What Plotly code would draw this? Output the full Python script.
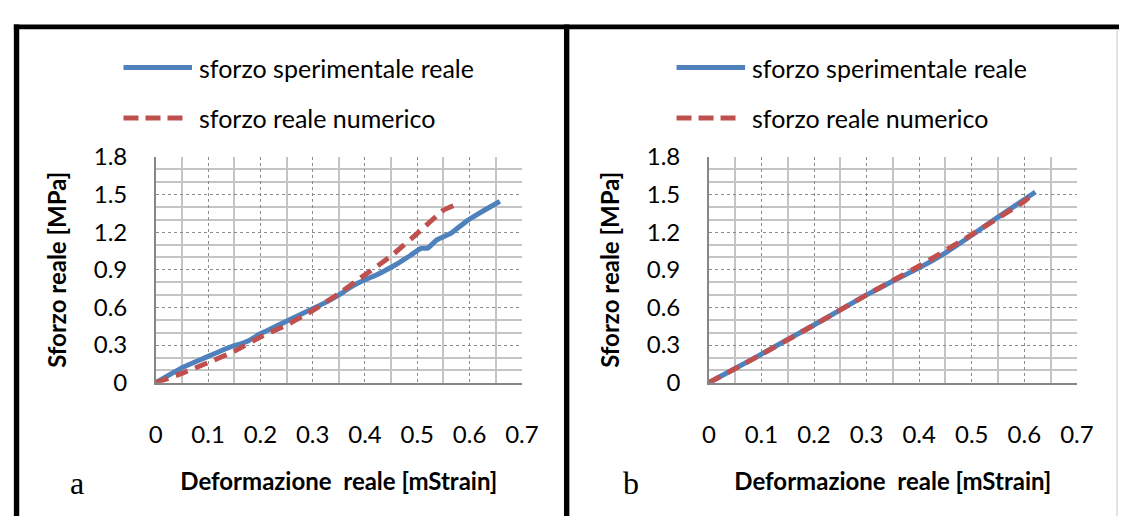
import plotly.graph_objects as go

# ---- data -------------------------------------------------------------
# panel a: experimental vs numerical true stress
strain_a_exp = [0, 0.025, 0.05, 0.075, 0.1, 0.125, 0.15, 0.1625, 0.175, 0.2,
                0.225, 0.25, 0.275, 0.3, 0.325, 0.35, 0.376, 0.4, 0.425, 0.45,
                0.464, 0.488, 0.507, 0.52, 0.538, 0.564, 0.595, 0.614, 0.639, 0.658]
stress_a_exp = [0, 0.06, 0.12, 0.165, 0.21, 0.255, 0.295, 0.31, 0.33, 0.39,
                0.44, 0.49, 0.54, 0.59, 0.64, 0.70, 0.77, 0.82, 0.865, 0.92,
                0.953, 1.018, 1.07, 1.073, 1.14, 1.19, 1.29, 1.34, 1.40, 1.445]

strain_a_num = [0, 0.05, 0.1, 0.15, 0.2, 0.25, 0.3, 0.35, 0.4, 0.45, 0.5, 0.55, 0.569]
stress_a_num = [0, 0.075, 0.16, 0.25, 0.365, 0.46, 0.575, 0.71, 0.86, 1.01, 1.19, 1.375, 1.41]

# panel b: calibrated model
strain_b_exp = [0, 0.05, 0.1, 0.15, 0.2, 0.25, 0.3, 0.35, 0.4, 0.45, 0.5, 0.55, 0.6, 0.621]
stress_b_exp = [0, 0.113, 0.228, 0.345, 0.46, 0.58, 0.70, 0.81, 0.915, 1.035, 1.175, 1.32, 1.46, 1.52]

strain_b_num = [0, 0.1, 0.2, 0.3, 0.4, 0.5, 0.6, 0.61]
stress_b_num = [0, 0.225, 0.46, 0.70, 0.93, 1.18, 1.445, 1.48]

series_names = ["sforzo sperimentale reale", "sforzo reale numerico"]
series_colors = ["#4F81BD", "#C0504D"]
panel_labels = ["a", "b"]
x_title = "Deformazione  reale [mStrain]"
y_title = "Sforzo reale [MPa]"
x_range = [0, 0.7]
y_range = [0, 1.8]

# ---- layout helpers ---------------------------------------------------
W, H = 1136, 529


def fx(p):
    return p / W


def fy(p):
    return 1 - p / H


FONT = "Lato"
LINE_W = 5

fig = go.Figure()

panels = [
    dict(xa="x", ya="y", left=152, right=526,
         exp=(strain_a_exp, stress_a_exp), num=(strain_a_num, stress_a_num)),
    dict(xa="x2", ya="y2", left=717, right=1093,
         exp=(strain_b_exp, stress_b_exp), num=(strain_b_num, stress_b_num)),
]
PLOT_TOP, PLOT_BOTTOM = 149, 388

for i, p in enumerate(panels):
    fig.add_trace(go.Scatter(
        x=p["exp"][0], y=p["exp"][1], xaxis=p["xa"], yaxis=p["ya"],
        mode="lines", name=series_names[0], showlegend=False,
        line=dict(color=series_colors[0], width=LINE_W, shape="spline", smoothing=0.4)))
    fig.add_trace(go.Scatter(
        x=p["num"][0], y=p["num"][1], xaxis=p["xa"], yaxis=p["ya"],
        mode="lines", name=series_names[1], showlegend=False,
        line=dict(color=series_colors[1], width=LINE_W, dash="13px,8px",
                  shape="spline", smoothing=0.4)))

    sfx = "" if i == 0 else "2"
    common = dict(
        showline=True, linecolor="#868686", linewidth=1.5,
        zeroline=False, showgrid=True, gridcolor="#8c8c8c", gridwidth=1,
        griddash="dot", ticks="",
        tickfont=dict(family=FONT, size=24, color="#000000"),
        title_font=dict(family=FONT, size=24, color="#000000"),
    )
    minor = dict(showgrid=True, gridcolor="#c4c4c4", gridwidth=1.6, griddash="solid")
    fig.update_layout(**{
        "xaxis" + sfx: dict(
            common, domain=[fx(p["left"]), fx(p["right"])], range=x_range,
            dtick=0.1, tick0=0, anchor="y" + sfx,
            minor=dict(minor, dtick=0.05),
            ticklabelstandoff=30,
            title=dict(text="<b>%s</b>" % x_title, standoff=26)),
        "yaxis" + sfx: dict(
            common, domain=[fy(PLOT_BOTTOM), fy(PLOT_TOP)], range=y_range,
            dtick=0.3, tick0=0, anchor="x" + sfx,
            minor=dict(minor, dtick=0.1),
            ticklabelstandoff=22,
            title=dict(text="<b>%s</b>" % y_title, standoff=20)),
    })

# ---- legends (one per panel) ------------------------------------------
shapes = []
annotations = []
for i, p in enumerate(panels):
    x0 = p["left"] - 33
    for k, yy in enumerate([54.5, 108]):
        shapes.append(dict(
            type="line", xref="paper", yref="paper",
            x0=fx(x0), x1=fx(x0 + (70 if k == 0 else 62)), y0=fy(yy), y1=fy(yy),
            line=dict(color=series_colors[k], width=LINE_W,
                      dash="solid" if k == 0 else "15px,7px")))
        annotations.append(dict(
            text=series_names[k], xref="paper", yref="paper",
            x=fx(x0 + 75), y=fy(yy), xanchor="left", yanchor="middle",
            showarrow=False, font=dict(family=FONT, size=25, color="#000000")))
    annotations.append(dict(
        text=panel_labels[i], xref="paper", yref="paper",
        x=fx(p["left"] - 80), y=fy(494), xanchor="center", yanchor="middle",
        showarrow=False, font=dict(family="Liberation Serif", size=32, color="#000000")))

# ---- frame borders -----------------------------------------------------
shapes += [
    dict(type="rect", xref="paper", yref="paper", x0=fx(7), x1=1, y0=fy(14), y1=fy(9),
         fillcolor="black", line=dict(width=0)),
    dict(type="rect", xref="paper", yref="paper", x0=fx(7), x1=fx(12.5), y0=0, y1=fy(9),
         fillcolor="black", line=dict(width=0)),
    dict(type="rect", xref="paper", yref="paper", x0=fx(569), x1=fx(574.5), y0=0, y1=fy(9),
         fillcolor="black", line=dict(width=0)),
    dict(type="line", xref="paper", yref="paper", x0=fx(1134), x1=fx(1134), y0=0, y1=fy(14),
         line=dict(color="#c8c8c8", width=1)),
]

fig.update_layout(
    width=W, height=H, autosize=False,
    margin=dict(l=0, r=0, t=0, b=0),
    paper_bgcolor="white", plot_bgcolor="white",
    shapes=shapes, annotations=annotations,
    showlegend=False,
)

# make the figure fill the page edge to edge
fig.write_html("out.html",
               post_script="document.body.style.margin='0';document.body.style.overflow='hidden';")
